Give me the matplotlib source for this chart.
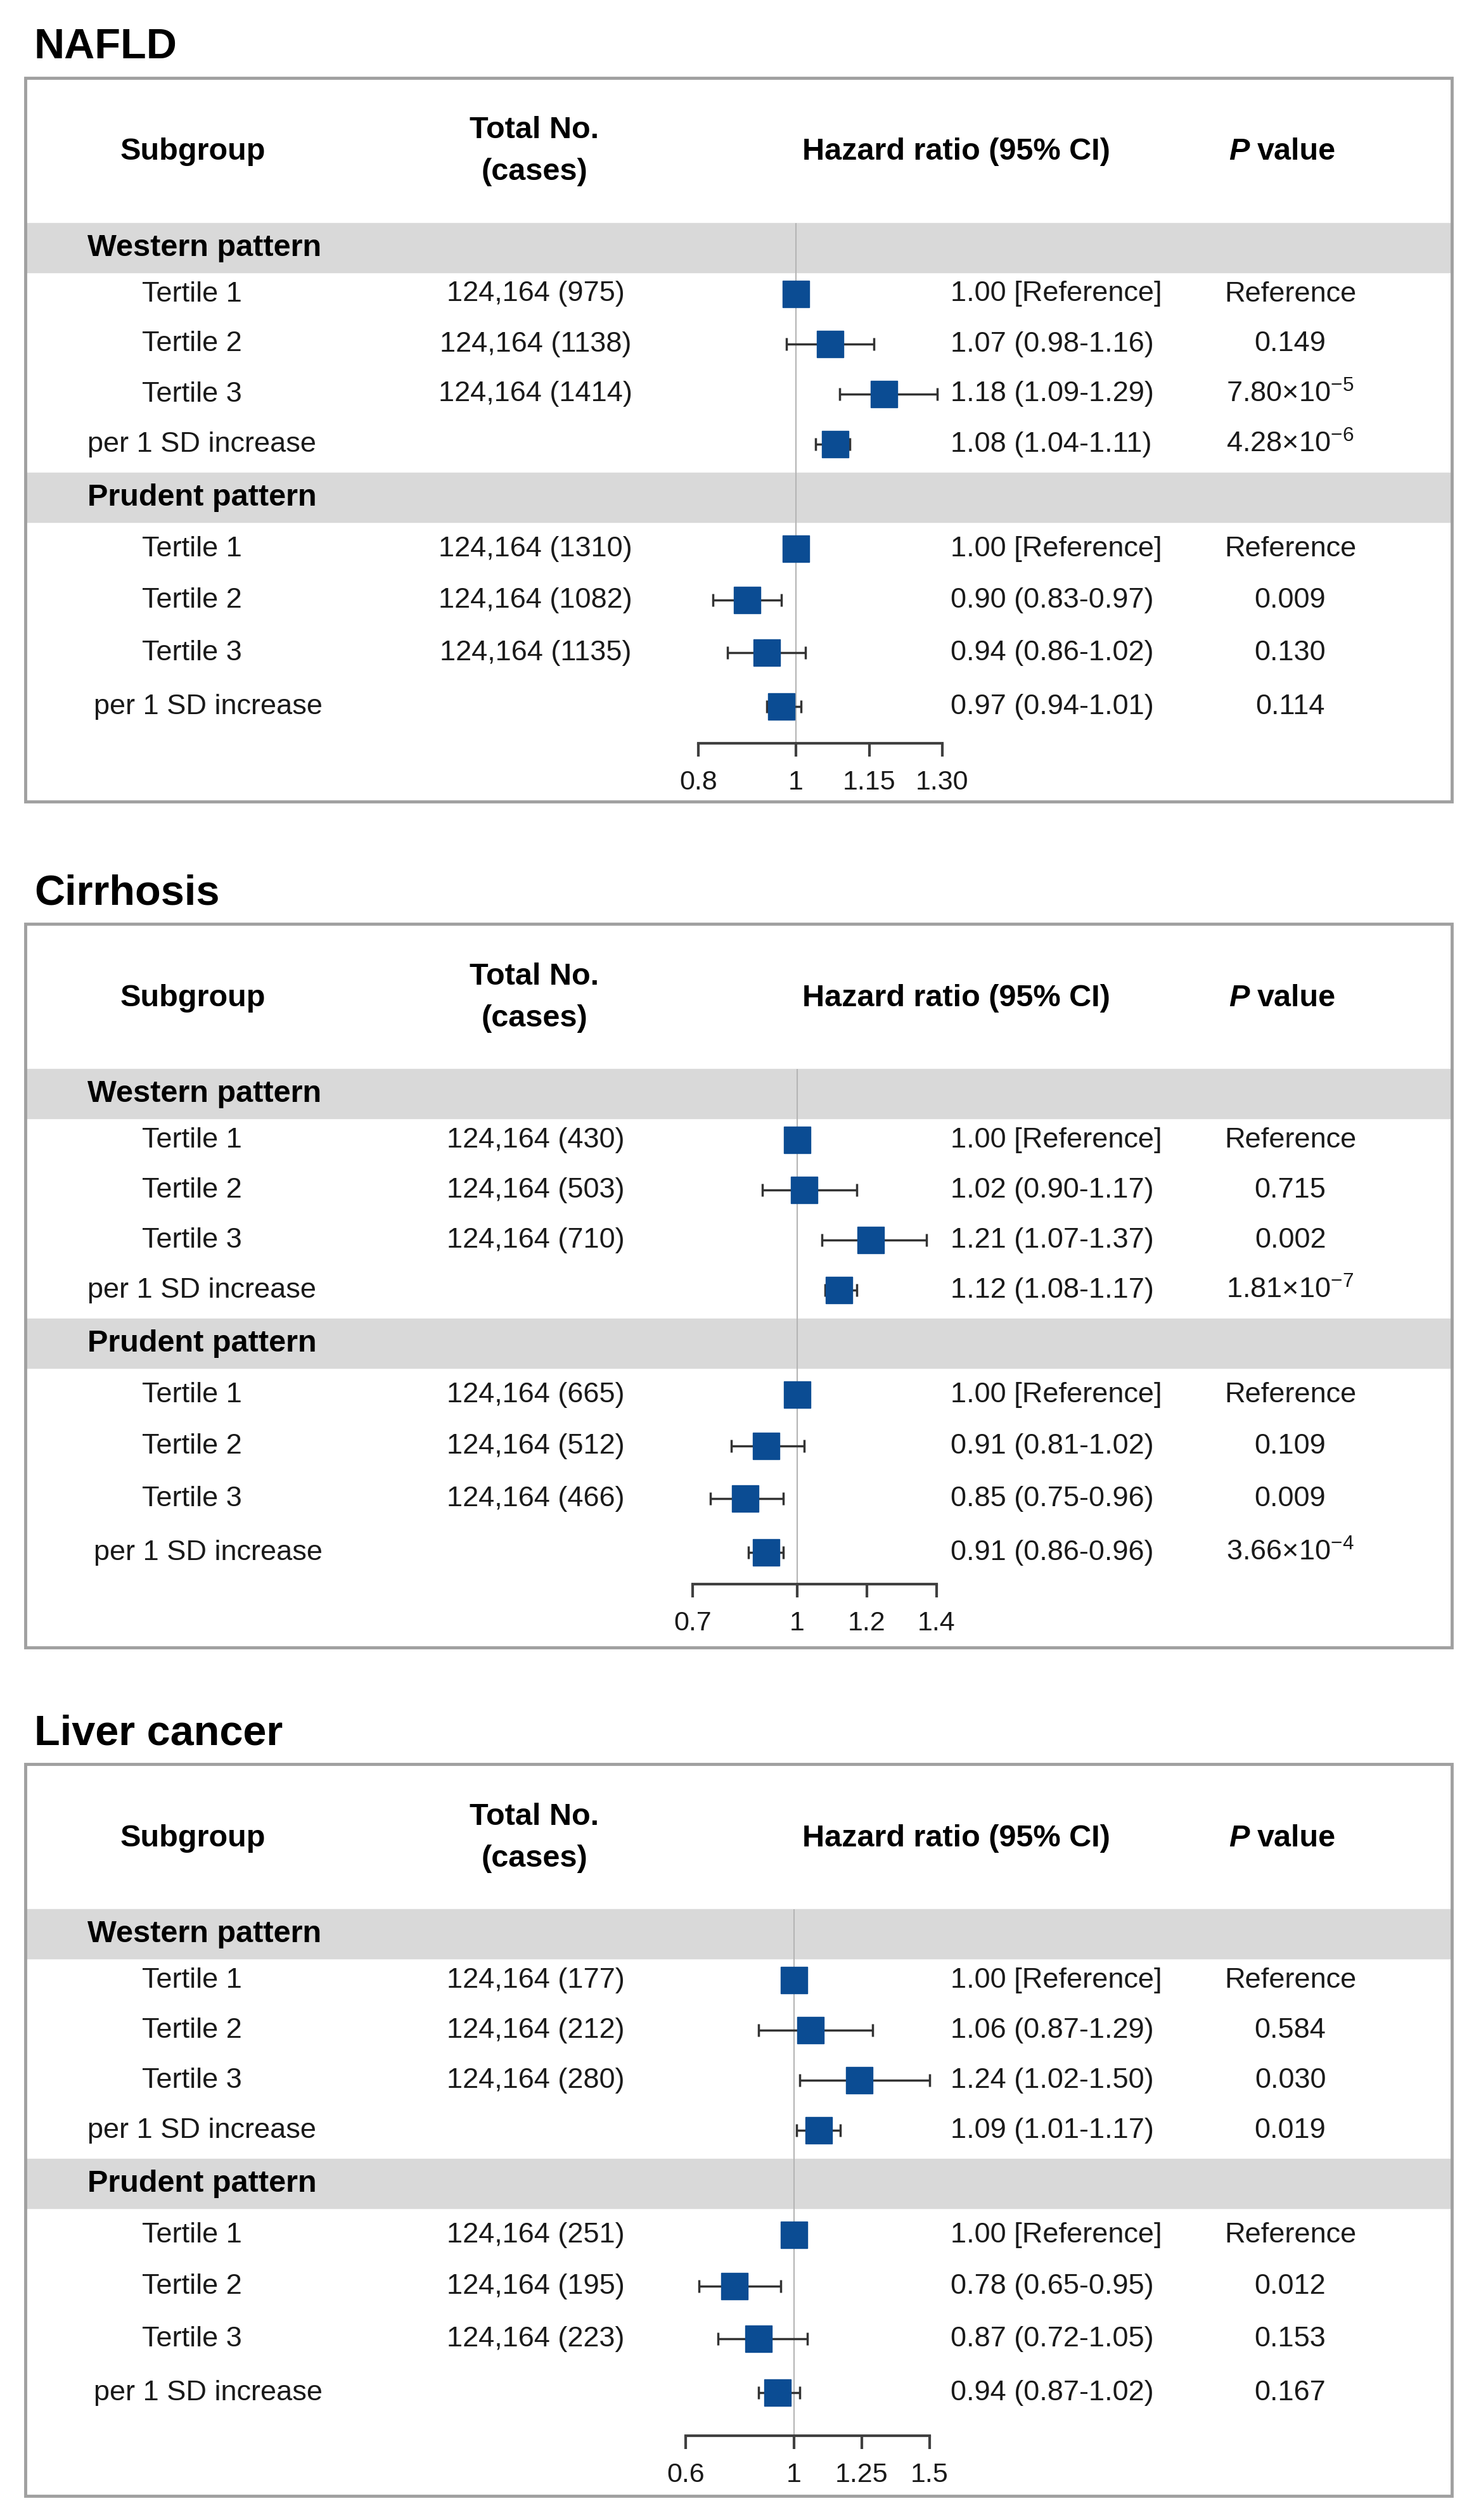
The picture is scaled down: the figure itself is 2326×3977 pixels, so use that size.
import matplotlib
matplotlib.use("Agg")
import matplotlib.pyplot as plt
from matplotlib.patches import Rectangle

plt.rcParams['font.family'] = ['Liberation Sans', 'DejaVu Sans']
plt.rcParams['mathtext.fontset'] = 'custom'
plt.rcParams['mathtext.rm'] = 'Liberation Sans'
plt.rcParams['mathtext.it'] = 'Liberation Sans:italic'
plt.rcParams['mathtext.bf'] = 'Liberation Sans:bold'

# ---- data ----
titles = ['NAFLD', 'Cirrhosis', 'Liver cancer']
patterns = ['Western pattern', 'Prudent pattern']
subgroups = ['Tertile 1', 'Tertile 2', 'Tertile 3', 'per 1 SD increase']
total_n = 124164

# rows: western T1..T3, per SD, prudent T1..T3, per SD  (None = no entry)
nafld_cases = [975, 1138, 1414, None, 1310, 1082, 1135, None]
nafld_hr = [1.00, 1.07, 1.18, 1.08, 1.00, 0.90, 0.94, 0.97]
nafld_lo = [None, 0.98, 1.09, 1.04, None, 0.83, 0.86, 0.94]
nafld_hi = [None, 1.16, 1.29, 1.11, None, 0.97, 1.02, 1.01]
nafld_p = ['Reference', '0.149', r'7.80$\times$10$^{-5}$', r'4.28$\times$10$^{-6}$',
           'Reference', '0.009', '0.130', '0.114']
nafld_ticks = [0.8, 1, 1.15, 1.30]
nafld_ticklabels = ['0.8', '1', '1.15', '1.30']

cirr_cases = [430, 503, 710, None, 665, 512, 466, None]
cirr_hr = [1.00, 1.02, 1.21, 1.12, 1.00, 0.91, 0.85, 0.91]
cirr_lo = [None, 0.90, 1.07, 1.08, None, 0.81, 0.75, 0.86]
cirr_hi = [None, 1.17, 1.37, 1.17, None, 1.02, 0.96, 0.96]
cirr_p = ['Reference', '0.715', '0.002', r'1.81$\times$10$^{-7}$',
          'Reference', '0.109', '0.009', r'3.66$\times$10$^{-4}$']
cirr_ticks = [0.7, 1, 1.2, 1.4]
cirr_ticklabels = ['0.7', '1', '1.2', '1.4']

liver_cases = [177, 212, 280, None, 251, 195, 223, None]
liver_hr = [1.00, 1.06, 1.24, 1.09, 1.00, 0.78, 0.87, 0.94]
liver_lo = [None, 0.87, 1.02, 1.01, None, 0.65, 0.72, 0.87]
liver_hi = [None, 1.29, 1.50, 1.17, None, 0.95, 1.05, 1.02]
liver_p = ['Reference', '0.584', '0.030', '0.019',
           'Reference', '0.012', '0.153', '0.167']
liver_ticks = [0.6, 1, 1.25, 1.5]
liver_ticklabels = ['0.6', '1', '1.25', '1.5']

panels = [
    (nafld_cases, nafld_hr, nafld_lo, nafld_hi, nafld_p, nafld_ticks, nafld_ticklabels),
    (cirr_cases, cirr_hr, cirr_lo, cirr_hi, cirr_p, cirr_ticks, cirr_ticklabels),
    (liver_cases, liver_hr, liver_lo, liver_hi, liver_p, liver_ticks, liver_ticklabels),
]

# ---- layout (pixels) ----
W, H = 2326, 3977
panel_top = [123, 1458, 2784]
panel_h = [1142, 1142, 1155]
axis_y = [1050, 1042, 1060]
px_one = [1256, 1258, 1253]      # pixel of HR = 1
px_per_unit = [770, 550, 428]
box_l, box_r = 40, 2291
band_tops = [229, 623]
band_h = 78
row_y = [[341, 420, 499, 578], [743, 824, 907, 992]]
label_x = [[303, 303, 303, 318], [303, 303, 303, 329]]
fx0, fx1 = 1040, 1500

blue = '#0B4C93'
band_col = '#D9D9D9'
txt = '#1A1A1A'
fs_row = 32.5
fs_head = 35

fig = plt.figure(figsize=(W / 100, H / 100), dpi=100)
bg = fig.add_axes([0, 0, 1, 1])
bg.set_xlim(0, W)
bg.set_ylim(H, 0)
bg.axis('off')

for k, (cases, hr, lo, hi, pv, ticks, ticklabels) in enumerate(panels):
    t = panel_top[k]
    bg.text(54, t - 48, titles[k], fontsize=48, fontweight='bold', va='center', ha='left')
    bg.add_patch(Rectangle((box_l, t), box_r - box_l, panel_h[k], fill=False,
                           edgecolor='#A0A0A0', lw=3.5, zorder=5))
    # header
    bg.text(304, t + 117, 'Subgroup', fontsize=fs_head, fontweight='bold', ha='center', va='center')
    bg.text(843, t + 83, 'Total No.', fontsize=fs_head, fontweight='bold', ha='center', va='center')
    bg.text(843, t + 149, '(cases)', fontsize=fs_head, fontweight='bold', ha='center', va='center')
    bg.text(1509, t + 117, 'Hazard ratio (95% CI)', fontsize=fs_head, fontweight='bold',
            ha='center', va='center')
    bg.text(1972, t + 117, 'P', fontsize=fs_head, fontweight='bold', fontstyle='italic',
            ha='right', va='center')
    bg.text(1984, t + 117, 'value', fontsize=fs_head, fontweight='bold', ha='left', va='center')

    for g in range(2):
        bt = t + band_tops[g]
        bg.add_patch(Rectangle((box_l, bt), box_r - box_l, band_h, color=band_col, zorder=0))
        bg.text(138, bt + band_h / 2, patterns[g], fontsize=fs_head, fontweight='bold',
                ha='left', va='center')
        for r in range(4):
            i = g * 4 + r
            y = t + row_y[g][r]
            bg.text(label_x[g][r], y, subgroups[r], fontsize=fs_row, color=txt,
                    ha='center', va='center')
            if cases[i] is not None:
                bg.text(845, y, f'{total_n:,} ({cases[i]})', fontsize=fs_row, color=txt,
                        ha='center', va='center')
            if lo[i] is None:
                hr_txt = f'{hr[i]:.2f} [Reference]'
            else:
                hr_txt = f'{hr[i]:.2f} ({lo[i]:.2f}-{hi[i]:.2f})'
            bg.text(1500, y, hr_txt, fontsize=fs_row, color=txt, ha='left', va='center')
            bg.text(2036, y, pv[i], fontsize=fs_row, color=txt, ha='center', va='center')

    # forest plot column
    ay = axis_y[k]
    ax = fig.add_axes([fx0 / W, 1 - (t + ay) / H, (fx1 - fx0) / W, ay / H])
    ax.set_facecolor('none')
    ax.set_xlim(1 + (fx0 - px_one[k]) / px_per_unit[k], 1 + (fx1 - px_one[k]) / px_per_unit[k])
    ax.set_ylim(ay, 0)
    for s in ['top', 'right', 'left']:
        ax.spines[s].set_visible(False)
    ax.spines['bottom'].set_bounds(ticks[0], ticks[-1])
    ax.spines['bottom'].set_color('#404040')
    ax.spines['bottom'].set_linewidth(3)
    ax.set_yticks([])
    ax.set_xticks(ticks)
    ax.set_xticklabels(ticklabels, fontsize=31, color=txt)
    ax.tick_params(axis='x', direction='out', length=15, width=3, color='#404040', pad=15)
    ax.vlines(1, band_tops[0], ay, color='#B5B5B5', lw=1.5, zorder=1)

    ys = [row_y[g][r] for g in range(2) for r in range(4)]
    for i in range(8):
        if lo[i] is not None:
            ax.errorbar(hr[i], ys[i], xerr=[[hr[i] - lo[i]], [hi[i] - hr[i]]], fmt='none',
                        ecolor='#333333', elinewidth=2.5, capsize=7, capthick=2.5, zorder=2)
        ax.plot(hr[i], ys[i], 's', ms=30, color=blue, mec=blue, mew=1, zorder=3)

fig.savefig('out.png', dpi=100, facecolor='white')
